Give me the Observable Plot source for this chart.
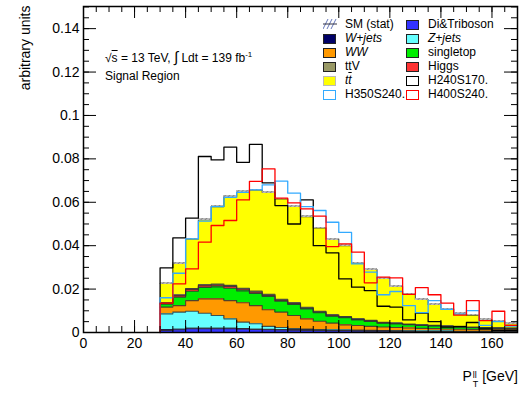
<!DOCTYPE html>
<html><head><meta charset="utf-8">
<script src="https://cdn.jsdelivr.net/npm/d3@7"></script>
<script src="https://cdn.jsdelivr.net/npm/@observablehq/plot@0.6"></script>
<style>
body{margin:0;background:#fff;font-family:"Liberation Sans",Arial,Helvetica,sans-serif;}
#wrap{position:relative;width:526px;height:394px;overflow:hidden;}
.abs{position:absolute;white-space:nowrap;color:#000;}
.leg{position:absolute;font-size:12px;line-height:14px;white-space:nowrap;}
.box{position:absolute;width:13px;height:10px;box-sizing:border-box;}
</style></head><body><div id="wrap"></div>
<script>
// ---- data (bin lower edges, 5 GeV wide) ----
const binLow = [30,35,40,45,50,55,60,65,70,75,80,85,90,95,100,105,110,115,120,125,130,135,140,145,150,155,160,165];
const binWidth = 5;
const diboson   = [0.0009,0.0013,0.0017,0.0017,0.0017,0.0017,0.0016,0.0014,0.0013,0.0012,0.0011,0.0010,0.0009,0.0008,0.0008,0.0007,0.0006,0.0006,0.0005,0.0005,0.0004,0.0004,0.0004,0.0003,0.0003,0.0003,0.0003,0.0002];
const wjets     = [0.0003,0.0003,0.0003,0.0003,0.0003,0.0003,0.0002,0.0002,0.0002,0.0002,0.0002,0.0002,0.0002,0.0001,0.0001,0.0001,0.0001,0.0001,0.0001,0.0001,0.0001,0.0001,0.0001,0.0001,0.0001,0.0001,0.0001,0.0001];
const zjets     = [0.0074,0.0078,0.0078,0.0069,0.0058,0.0043,0.0030,0.0024,0.0013,0.0009,0.0005,0.0004,0.0003,0.0004,0.0003,0.0003,0.0003,0.0002,0.0003,0.0002,0.0002,0.0002,0.0002,0.0002,0.0002,0.0002,0.0001,0.0002];
const ww        = [0.0031,0.0030,0.0049,0.0066,0.0077,0.0084,0.0089,0.0084,0.0077,0.0071,0.0060,0.0047,0.0038,0.0030,0.0023,0.0021,0.0018,0.0016,0.0014,0.0013,0.0012,0.0011,0.0009,0.0009,0.0008,0.0007,0.0007,0.0007];
const singletop = [0.0013,0.0039,0.0043,0.0052,0.0055,0.0057,0.0055,0.0056,0.0061,0.0050,0.0051,0.0046,0.0039,0.0032,0.0033,0.0026,0.0023,0.0018,0.0017,0.0015,0.0013,0.0012,0.0011,0.0010,0.0008,0.0008,0.0007,0.0006];
const higgs     = [0.0004,0.0006,0.0008,0.0008,0.0008,0.0008,0.0007,0.0006,0.0005,0.0004,0.0004,0.0003,0.0003,0.0002,0.0002,0.0002,0.0002,0.0001,0.0001,0.0001,0.0001,0.0001,0.0001,0.0001,0.0001,0.0001,0.0001,0.0001];
const ttV       = [0.0003,0.0004,0.0005,0.0005,0.0005,0.0005,0.0005,0.0005,0.0005,0.0005,0.0004,0.0004,0.0004,0.0004,0.0003,0.0003,0.0003,0.0003,0.0003,0.0002,0.0002,0.0002,0.0002,0.0002,0.0002,0.0001,0.0001,0.0001];
const ttbar     = [0.0090,0.0146,0.0228,0.0300,0.0357,0.0410,0.0444,0.0466,0.0470,0.0462,0.0444,0.0417,0.0384,0.0349,0.0327,0.0257,0.0234,0.0203,0.0168,0.0138,0.0117,0.0096,0.0079,0.0059,0.0055,0.0037,0.0032,0.0021];
const smStatErr = [0.0004,0.0004,0.0004,0.0004,0.0004,0.0004,0.0004,0.0004,0.0004,0.0004,0.0004,0.0004,0.0004,0.0004,0.0004,0.0004,0.0004,0.0004,0.0003,0.0003,0.0003,0.0003,0.0003,0.0003,0.0003,0.0003,0.0003,0.0003];
const H240S170  = [0.0298,0.0436,0.0527,0.0811,0.0795,0.0854,0.0784,0.0867,0.0689,0.0585,0.0500,0.0611,0.0400,0.0367,0.0247,0.0209,0.0193,0.0121,0.0117,0.0058,0.0089,0.0050,0.0025,0.0027,0.0046,0.0017,0.0010,0.0010];
const H350S240  = [0.0160,0.0273,0.0431,0.0513,0.0580,0.0623,0.0646,0.0657,0.0680,0.0697,0.0642,0.0580,0.0562,0.0508,0.0461,0.0316,0.0278,0.0174,0.0189,0.0124,0.0092,0.0147,0.0107,0.0085,0.0101,0.0033,0.0050,0.0030];
const H400S240  = [0.0135,0.0224,0.0293,0.0416,0.0493,0.0516,0.0611,0.0696,0.0754,0.0619,0.0597,0.0570,0.0536,0.0396,0.0408,0.0370,0.0229,0.0255,0.0252,0.0176,0.0207,0.0174,0.0135,0.0080,0.0147,0.0055,0.0098,0.0033];

const stackNames  = ["Di&Triboson","W+jets","Z+jets","WW","singletop","Higgs","ttV","ttbar"];
const stackColors = ["#3333ff","#000066","#66ffff","#ff9900","#00ee00","#ff3333","#999966","#ffff00"];
const signalNames  = ["H240S170.","H350S240.","H400S240."];
const signalColors = ["#000000","#33aaff","#ff0000"];
const yTicks = [0,0.02,0.04,0.06,0.08,0.1,0.12,0.14];
const xTicks = [0,20,40,60,80,100,120,140,160];

// ---- build tables ----
const series = {"Di&Triboson":diboson,"W+jets":wjets,"Z+jets":zjets,"WW":ww,"singletop":singletop,"Higgs":higgs,"ttV":ttV,"ttbar":ttbar};
const lastEdge = binLow[binLow.length-1] + binWidth;
const rects = [], tops = [];
const cum = binLow.map(() => 0);
for (const name of stackNames) {
  const v = series[name];
  binLow.forEach((x, i) => {
    rects.push({comp: name, x1: x, x2: x + binWidth, y1: cum[i], y2: cum[i] + v[i]});
    cum[i] += v[i];
    tops.push({comp: name, x, y: cum[i]});
  });
  tops.push({comp: name, x: lastEdge, y: cum[cum.length - 1]});
}
const band = binLow.map((x, i) => ({x1: x, x2: x + binWidth, y1: cum[i] - smStatErr[i], y2: cum[i] + smStatErr[i]}));
const sigVals = [H240S170, H350S240, H400S240];
const sig = [];
signalNames.forEach((n, k) => {
  sig.push({s: n, x: binLow[0], y: 0});
  binLow.forEach((x, i) => sig.push({s: n, x, y: sigVals[k][i]}));
  sig.push({s: n, x: lastEdge, y: sigVals[k][sigVals[k].length - 1]});
});

const W = 526, H = 394, mL = 83, mR = 9, mT = 6, mB = 62;
const fw = W - mL - mR, fh = H - mT - mB;
const xMinor = d3.range(0, 171, 5), yMinor = d3.range(0, 0.1501, 0.005);

const svg = Plot.plot({
  width: W, height: H, marginLeft: mL, marginRight: mR, marginTop: mT, marginBottom: mB,
  style: {fontFamily: '"Liberation Sans", Arial, sans-serif', fontSize: "14px", background: "white", color: "black"},
  x: {domain: [0, 170], ticks: xTicks, tickSize: 0, tickPadding: 6, tickFormat: d => String(d), label: null},
  y: {domain: [0, 0.1502], ticks: yTicks, tickSize: 0, tickPadding: 4, tickFormat: d => String(d), label: null},
  color: {domain: stackNames, range: stackColors},
  marks: [
    Plot.rect(rects, {x1: "x1", x2: "x2", y1: "y1", y2: "y2", fill: "comp", shapeRendering: "crispEdges"}),
    Plot.line(tops, {x: "x", y: "y", z: "comp", curve: "step-after", stroke: "#333", strokeWidth: 1.1, strokeOpacity: 0.85}),
    Plot.rect(band, {x1: "x1", x2: "x2", y1: "y1", y2: "y2", fill: "url(#hatch)", shapeRendering: "crispEdges"}),
    Plot.line(sig, {x: "x", y: "y", z: "s", curve: "step-after", stroke: d => signalColors[signalNames.indexOf(d.s)], strokeWidth: 1.3}),
    Plot.tickY(yMinor, {y: d => d, insetRight: fw - 6, stroke: "black"}),
    Plot.tickY(yMinor, {y: d => d, insetLeft: fw - 6, stroke: "black"}),
    Plot.tickY(yTicks, {y: d => d, insetRight: fw - 13, stroke: "black"}),
    Plot.tickY(yTicks, {y: d => d, insetLeft: fw - 13, stroke: "black"}),
    Plot.tickX(xMinor, {x: d => d, insetTop: fh - 6, stroke: "black"}),
    Plot.tickX(xMinor, {x: d => d, insetBottom: fh - 6, stroke: "black"}),
    Plot.tickX(xTicks, {x: d => d, insetTop: fh - 12, stroke: "black"}),
    Plot.tickX(xTicks, {x: d => d, insetBottom: fh - 12, stroke: "black"}),
    Plot.frame({stroke: "black", strokeWidth: 1.5}),
    Plot.text(["arbitrary units"], {frameAnchor: "top-left", dx: -63, dy: -1, rotate: -90, textAnchor: "end", fontSize: 14})
  ]
});
svg.insertAdjacentHTML("afterbegin", '<defs><pattern id="hatch" width="3" height="3" patternUnits="userSpaceOnUse" patternTransform="rotate(45)"><rect width="3" height="3" fill="#bbb"/><line x1="0" y1="0" x2="0" y2="3" stroke="#666" stroke-width="1.2"/></pattern></defs>');
const wrap = document.getElementById("wrap");
wrap.appendChild(svg);

// ---- overlay texts ----
function add(html, style, cls) {
  const d = document.createElement("div");
  d.className = cls || "abs";
  d.innerHTML = html;
  Object.assign(d.style, style);
  wrap.appendChild(d);
  return d;
}
add('√<span style="text-decoration:overline">s</span> = 13 TeV, <span style="font-size:15px">∫</span> Ldt = 139 fb<sup style="font-size:8px">-1</sup>', {left: "105px", top: "48px", fontSize: "12px"});
add('Signal Region', {left: "105px", top: "69px", fontSize: "12px"});
add('P<span style="display:inline-block;vertical-align:-6px;font-size:9px;line-height:9px;margin-left:1px"><span style="display:block">ll</span><span style="display:block">T</span></span> [GeV]', {right: "8px", top: "368px", fontSize: "14px"});

// ---- legend ----
const legCol1 = [
  {t: 'SM (stat)', kind: "hatch"},
  {t: '<i>W+jets</i>', fill: "#000066", border: "#222"},
  {t: '<i>WW</i>', fill: "#ff9900", border: "#222"},
  {t: 'ttV', fill: "#999966", border: "#222"},
  {t: '<i>t</i><i style="text-decoration:overline">t</i>', fill: "#ffff00", border: "#bbb"},
  {t: 'H350S240.', fill: "#fff", border: "#33aaff"}
];
const legCol2 = [
  {t: 'Di&amp;Triboson', fill: "#3333ff", border: "#222"},
  {t: '<i>Z+jets</i>', fill: "#66ffff", border: "#222"},
  {t: 'singletop', fill: "#00ee00", border: "#222"},
  {t: 'Higgs', fill: "#ff3333", border: "#222"},
  {t: 'H240S170.', fill: "#fff", border: "#000"},
  {t: 'H400S240.', fill: "#fff", border: "#ff0000"}
];
const rowY = [24.5, 38.7, 52.5, 66.5, 80.5, 94.5];
function legend(col, boxX, textX) {
  col.forEach((e, i) => {
    const cy = rowY[i];
    if (e.kind === "hatch") {
      add('<svg width="14" height="10"><g stroke="#6677bb" stroke-width="1"><line x1="0" y1="10" x2="5" y2="0"/><line x1="4" y1="10" x2="9" y2="0"/><line x1="8" y1="10" x2="13" y2="0"/></g><line x1="0" y1="5" x2="14" y2="5" stroke="#334" stroke-width="1"/></svg>', {left: boxX + "px", top: (cy - 6) + "px", lineHeight: "0"});
    } else {
      add('', {left: boxX + "px", top: (cy - 5) + "px", background: e.fill, border: "1.3px solid " + e.border}, "box");
    }
    add(e.t, {left: textX + "px", top: (cy - 7.5) + "px"}, "leg");
  });
}
legend(legCol1, 323, 345);
legend(legCol2, 406, 428);
</script></body></html>
